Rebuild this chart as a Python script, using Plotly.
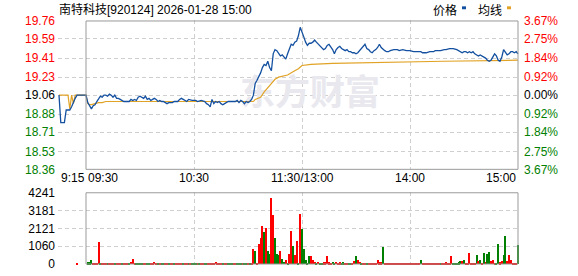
import plotly.graph_objects as go

# ---------------- data ----------------
title_name = "南特科技"
title_rest = "[920124] 2026-01-28 15:00"
pre_close = 19.06

# minutes counted from 9:15 (9:30 = 15, 11:30/13:00 = 135, 14:00 = 195, 15:00 = 255)
price_t = [0, 1, 2, 3, 4, 5, 6, 7, 8, 9, 10, 15,
           16, 17, 18, 19, 20, 21, 22, 23, 24, 25, 26, 27, 28, 29, 30, 31, 32, 33, 34, 35, 36, 39,
           40, 41, 42, 43, 44, 45, 46, 47, 48, 49, 50, 51, 52, 53, 54, 55, 56, 57, 58, 59, 60, 61,
           63, 64, 66, 67, 68, 69, 70, 71, 72, 74, 76, 77, 79, 81, 82, 83, 84, 85, 86, 87, 88, 89,
           90, 91, 92, 93, 94, 98, 99, 100, 101, 102, 103, 104, 105, 106, 107, 108, 109, 110, 111,
           112, 113, 114, 115, 116, 117, 118, 119, 120, 121, 122, 123, 124, 125, 126, 127, 128, 129,
           130, 131, 132, 133, 134, 135,
           136, 137, 138, 139, 140, 141, 142, 143, 144, 145, 146, 147, 148, 149, 150, 151, 152, 153,
           154, 155, 156, 157, 158, 159, 160, 161, 162, 163, 164, 165, 166, 167, 168, 169, 170, 171,
           172, 173, 174, 175, 176, 177, 178, 179, 180, 181, 182, 183, 184, 186, 188, 189, 191, 193,
           195, 197, 199, 201, 202, 204, 206, 208, 209, 210, 212, 214, 215, 217, 219, 221, 222, 223,
           224, 225, 226, 227, 228, 229, 230, 231, 232, 233, 234, 235, 236, 237, 238, 239, 240, 241,
           242, 243, 244, 245, 246, 247, 248, 249, 250, 251, 252, 253, 254, 255]
price_v = [19.06, 18.80, 18.80, 18.80, 18.92, 18.92, 18.92, 18.95, 19.00, 19.03, 19.06, 19.06,
           18.99, 18.96, 18.93, 18.96, 18.97, 19.00, 19.03, 19.05, 19.04, 19.06, 19.06, 19.05, 19.07,
           19.06, 19.04, 19.06, 19.03, 19.03, 19.02, 19.01, 19.00, 19.00,
           19.02, 19.01, 19.02, 19.01, 19.04, 19.05, 19.04, 19.03, 19.05, 19.02, 19.03, 19.01, 19.02,
           19.03, 19.02, 19.00, 19.01, 19.00, 19.00, 18.99, 18.98, 18.99,
           18.99, 19.00, 19.00, 19.02, 19.03, 19.02, 19.01, 19.00, 19.02, 19.01, 19.01, 19.00, 19.01,
           19.00, 18.98, 18.97, 18.95, 19.02, 18.98, 19.00, 18.99, 19.00,
           18.98, 18.97, 18.98, 18.99, 19.00, 19.00, 19.01, 18.99, 19.01, 19.00, 18.98, 19.00, 18.99,
           19.00, 19.02, 19.06, 19.17, 19.20, 19.23,
           19.27, 19.32, 19.35, 19.34, 19.38, 19.32, 19.29, 19.45, 19.49, 19.48, 19.45, 19.43, 19.44,
           19.42, 19.40, 19.45, 19.49, 19.54,
           19.53, 19.56, 19.57, 19.62, 19.70, 19.66,
           19.61, 19.56, 19.53, 19.55, 19.55, 19.56, 19.58, 19.56, 19.54, 19.52, 19.50, 19.49, 19.50,
           19.53, 19.54, 19.52, 19.49, 19.45,
           19.49, 19.51, 19.52, 19.50, 19.49, 19.48, 19.49, 19.47, 19.47, 19.46, 19.46, 19.45, 19.46,
           19.48, 19.49, 19.51, 19.54, 19.50,
           19.49, 19.47, 19.46, 19.48, 19.49, 19.51, 19.54, 19.51, 19.49, 19.48, 19.47, 19.47, 19.48,
           19.49, 19.49, 19.48, 19.49, 19.48,
           19.48, 19.47, 19.47, 19.47, 19.46, 19.46, 19.47, 19.47, 19.48, 19.48, 19.48, 19.49, 19.49,
           19.50, 19.50, 19.49, 19.48, 19.47,
           19.46, 19.47, 19.47, 19.46, 19.47, 19.46, 19.47, 19.45, 19.44, 19.43, 19.44, 19.43, 19.42,
           19.41, 19.39, 19.38, 19.39, 19.42,
           19.45, 19.43, 19.39, 19.38, 19.42, 19.49, 19.46, 19.44, 19.45, 19.47, 19.47, 19.46, 19.47,
           19.45]

avg_t = [0, 5, 6, 7, 8, 9, 15, 16, 17, 18, 20, 22, 24, 26, 108, 109, 112, 114, 117, 120, 122,
         124, 127, 130, 133, 135, 140, 152, 176, 214, 255]
avg_v = [19.06, 19.06, 18.93, 19.06, 18.98, 19.06, 19.06, 18.98, 18.97, 18.97, 18.98, 18.99,
         18.99, 19.00, 19.00, 19.02, 19.04, 19.09, 19.15, 19.21, 19.23, 19.24, 19.25, 19.28, 19.31,
         19.34, 19.35, 19.36, 19.37, 19.38, 19.39]

vol_t = [10] + list(range(16, 256))
vol_v = [60,
         116, 116, 270, 60, 60, 40, 1317, 50, 50, 50,
         50, 50, 40, 50, 50, 40, 50, 50, 50, 50,
         50, 50, 50, 50, 155, 330, 60, 50, 50, 50,
         50, 50, 50, 50, 40, 50, 60, 155, 50, 50,
         50, 50, 97, 50, 50, 50, 50, 50, 50, 40,
         50, 97, 50, 50, 40, 40, 40, 40, 50, 50,
         50, 50, 40, 50, 50, 50, 50, 50, 50, 40,
         50, 155, 50, 97, 50, 50, 50, 50, 50, 50,
         40, 50, 50, 50, 50, 50, 40, 50, 50, 50,
         50, 50,
         930, 814, 97, 1220, 1590, 2266, 1937, 2170, 814, 580,
         3950, 2960, 1590, 580, 540, 814, 290, 135, 230, 40,
         580, 1975, 1100, 540, 1395, 80, 3000, 2090, 930,
         232, 80, 465, 465, 252, 155, 97, 135, 80, 80,
         116, 116, 465, 116, 80, 135, 80, 155, 97, 116,
         80, 116, 80, 80, 80, 80, 80, 190, 465, 232,
         155, 80, 60, 60, 60, 60, 60, 60, 60, 60,
         232, 116, 116, 1046, 60, 60, 60, 60, 60, 60,
         60, 60, 60, 60, 60, 60, 60, 60, 60, 60,
         60, 60, 60, 60, 270, 60, 60, 60, 60, 60,
         60, 60, 60, 60, 60, 80, 80, 60, 116, 60,
         80, 465, 80, 80, 80, 116, 174, 194, 232, 40,
         80, 660, 60, 80, 80, 540, 194, 232, 60, 640,
         135, 580, 700, 194, 232, 80, 80, 1220, 116, 194,
         520, 1705, 174, 520, 250, 60, 60, 80, 1123]
vol_dir = ("r"
           + "gggrrrrgrr" + "rgrrrgrrrg" + "rrrgrrrggg" + "grrggrrrrg" + "rggrrgrrgr"
           + "rrrgrrgrgg" + "grgrrggrrr" + "rrrrrgrrgg" + "grrgggrggr" + "gr"
           + "rgrrrrgrgg" + "rrgggrggrg" + "rrgrrgrgg"
           + "gggrrrgrgg" + "rrrrrggrrr" + "ggrrggrrgr" + "rgrrgrrrrr" + "rrrgrrrrrr"
           + "rrrrrrrrrr" + "rrrrgrrrrr" + "rrrrrgrrrr" + "rrgggggrgr" + "rrrrrgrgrg"
           + "rggrrrggrr" + "ggrrrrrrg")
assert len(vol_t) == len(vol_v) == len(vol_dir)

price_ticks = [18.36, 18.53, 18.71, 18.88, 19.06, 19.23, 19.41, 19.59, 19.76]
pct_ticks = ["3.67%", "2.75%", "1.84%", "0.92%", "0.00%", "0.92%", "1.84%", "2.75%", "3.67%"]
vol_ticks = [0, 1060, 2121, 3181, 4241]
time_pos = [0, 15, 75, 135, 195, 255]
time_labels = ["9:15", "09:30", "10:30", "11:30/13:00", "14:00", "15:00"]
time_anchor = ["left", "left", "center", "center", "center", "right"]

# ---------------- style / layout ----------------
W, H = 578, 276
PL, PR = 58, 519            # plot pixel extent horizontally
PT, PB = 20, 271            # plot pixel extent vertically
X0_PX, MIN_PX = 59, 1.8     # pixel of minute 0 and pixels per minute
MAIN_TOP, MAIN_BOT = 20, 174
VOL_TOP, VOL_BOT = 196, 271

RED, GREEN, BLACK = "#FF0000", "#008000", "#000000"
BLUE, GOLD = "#1450A0", "#E1A325"
GRID, FRAME = "#CFCFCF", "#9A9A9A"
FONT = "Liberation Sans, Arial, Noto Sans CJK SC"
CJK = "Noto Sans CJK SC, Liberation Sans"

ph = PB - PT
pw = PR - PL
xr = [(PL - X0_PX) / MIN_PX, (PR - X0_PX) / MIN_PX]
k_main = (price_ticks[-1] - price_ticks[0]) / (173 - 21)
main_range = [price_ticks[0] - k_main, price_ticks[-1] + k_main]
k_vol = vol_ticks[-1] / (270 - 197)
vol_range = [-k_vol, vol_ticks[-1] + k_vol]


def pxx(px):
    return (px - PL) / pw


def pyy(py):
    return (PB - py) / ph


def col(i, n):
    mid = n // 2
    return RED if i > mid else (BLACK if i == mid else GREEN)


left_txt = [f'<span style="color:{col(i, len(price_ticks))}">{v:.2f}</span>'
            for i, v in enumerate(price_ticks)]
right_txt = [f'<span style="color:{col(i, len(price_ticks))}">{t}</span>'
             for i, t in enumerate(pct_ticks)]

fig = go.Figure()

# watermark (beneath the lines)
fig.add_trace(go.Scatter(x=[139.4], y=[19.05], mode="text", text=["<b>东方财富</b>"],
                         textfont=dict(size=35, color="#E8E8EE", family=CJK),
                         hoverinfo="skip", showlegend=False, xaxis="x", yaxis="y"))

fig.add_trace(go.Scatter(x=avg_t, y=avg_v, mode="lines", line=dict(color=GOLD, width=1.2),
                         showlegend=False, xaxis="x", yaxis="y"))
fig.add_trace(go.Scatter(x=price_t, y=price_v, mode="lines", line=dict(color=BLUE, width=1.3),
                         showlegend=False, xaxis="x", yaxis="y"))

bar_colors = [RED if d == "r" else GREEN for d in vol_dir]
fig.add_trace(go.Bar(x=vol_t, y=vol_v, width=0.5, marker=dict(color=bar_colors, line=dict(width=0)),
                     showlegend=False, xaxis="x2", yaxis="y2"))

grid_x = dict(range=xr, tickvals=[0, 75, 135, 195], showticklabels=False, ticks="",
              showgrid=True, gridcolor=GRID, griddash="4px,3px", gridwidth=1,
              zeroline=False, showline=False, fixedrange=True)

fig.update_layout(
    width=W, height=H, autosize=False,
    margin=dict(l=PL, r=W - PR, t=PT, b=H - PB, pad=0),
    paper_bgcolor="white", plot_bgcolor="white",
    font=dict(family=FONT, size=12, color=BLACK),
    bargap=0,
    xaxis=dict(domain=[0, 1], anchor="y", **grid_x),
    xaxis2=dict(domain=[0, 1], anchor="y2", **grid_x),
    yaxis=dict(domain=[pyy(MAIN_BOT), 1], anchor="x", range=main_range,
               tickvals=price_ticks, ticktext=left_txt, ticks="",
               showgrid=True, gridcolor=GRID, griddash="4px,3px", zeroline=False,
               showline=False, tickfont=dict(size=12, family=FONT), ticklabelstandoff=2),
    yaxis3=dict(overlaying="y", side="right", anchor="x", range=main_range,
                tickvals=price_ticks, ticktext=right_txt, ticks="", showgrid=False,
                zeroline=False, showline=False, tickfont=dict(size=12, family=FONT),
                ticklabelstandoff=4),
    yaxis2=dict(domain=[0, pyy(VOL_TOP)], anchor="x2", range=vol_range,
                tickvals=vol_ticks, ticktext=[str(v) for v in vol_ticks], ticks="",
                showgrid=True, gridcolor=GRID, griddash="4px,3px", zeroline=False,
                showline=False, tickfont=dict(size=12, family=FONT, color=BLACK),
                ticklabelstandoff=2),
)

# invisible trace to activate the right-hand axis
fig.add_trace(go.Scatter(x=[price_t[0]], y=[pre_close], mode="markers", opacity=0,
                         hoverinfo="skip", showlegend=False, xaxis="x", yaxis="y3"))

# frames (solid) for the continuous-trading area
fig.add_shape(type="rect", xref="x", yref="y", x0=15, x1=255, y0=price_ticks[0], y1=price_ticks[-1],
              line=dict(color=FRAME, width=1), layer="above")
fig.add_shape(type="rect", xref="x2", yref="y2", x0=15, x1=255, y0=vol_ticks[0], y1=vol_ticks[-1],
              line=dict(color=FRAME, width=1), layer="above")

# time labels
for pos, lab, anc in zip(time_pos, time_labels, time_anchor):
    fig.add_annotation(x=pos, xref="x", y=pyy(182), yref="paper", text=lab, showarrow=False,
                       xanchor=anc, yanchor="middle", font=dict(size=12, family=FONT, color=BLACK))

# title
fig.add_annotation(x=pxx(57), y=pyy(9), xref="paper", yref="paper",
                   text=title_name + title_rest,
                   showarrow=False, xanchor="left", yanchor="middle",
                   font=dict(size=12, family=FONT, color=BLACK))

# legend (text followed by small colour chip)
fig.add_annotation(x=pxx(431), y=pyy(9), xref="paper", yref="paper", text="价格",
                   showarrow=False, xanchor="left", yanchor="middle",
                   font=dict(size=12, family=CJK, color=BLACK))
fig.add_annotation(x=pxx(476), y=pyy(9), xref="paper", yref="paper", text="均线",
                   showarrow=False, xanchor="left", yanchor="middle",
                   font=dict(size=12, family=CJK, color=BLACK))
fig.add_shape(type="rect", xref="paper", yref="paper", x0=pxx(462), x1=pxx(466),
              y0=pyy(9), y1=pyy(6), fillcolor=BLUE, line=dict(width=0))
fig.add_shape(type="rect", xref="paper", yref="paper", x0=pxx(507), x1=pxx(511),
              y0=pyy(9), y1=pyy(6), fillcolor=GOLD, line=dict(width=0))

fig.write_html("out.html", config={"displayModeBar": False})
